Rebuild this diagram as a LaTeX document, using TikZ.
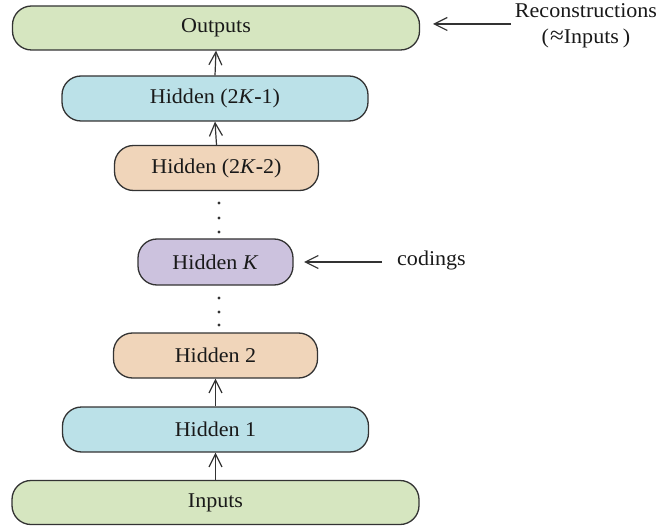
\documentclass[tikz,border=0pt]{standalone}
\usepackage{fontspec}
\setmainfont{Liberation Serif}[FakeStretch=1.05]
\usetikzlibrary{arrows.meta}
\definecolor{layergreen}{HTML}{D6E6C0}
\definecolor{layerblue}{HTML}{BBE1E8}
\definecolor{layerpeach}{HTML}{F0D5BA}
\definecolor{layerpurple}{HTML}{CCC2DE}
\definecolor{edge}{HTML}{333333}
\begin{document}
\begin{tikzpicture}[x=1pt,y=-1pt,
  layer/.style={draw=edge, line width=1.3pt, rounded corners=19pt,
    inner sep=0pt, text=black!90, font=\fontsize{21}{25}\selectfont},
  wide/.style={layer, minimum width=407pt, minimum height=44pt, fill=layergreen},
  mid/.style={layer, minimum width=306pt, minimum height=45pt, fill=layerblue},
  narrow/.style={layer, minimum width=204pt, minimum height=45pt, fill=layerpeach},
  core/.style={layer, minimum width=155pt, minimum height=46pt, fill=layerpurple},
  flow/.style={draw=edge, line width=1.2pt, -{Straight Barb[length=13pt,width=13pt,line width=1.2pt]}},
  note/.style={font=\fontsize{21}{25}\selectfont, text=black!90, inner sep=0pt},
  dotmark/.style={fill=edge}]
  \useasboundingbox (0,0) rectangle (660,526);

  % stacked autoencoder layers
  \node[wide]   (out)  at (216,28)    {Outputs};
  \node[mid]    (h2k1) at (215,98.5)  {Hidden (2\textit{K}\textbf{-}1)};
  \node[narrow] (h2k2) at (216.5,168) {Hidden (2\textit{K}\textbf{-}2)};
  \node[core]   (hk)   at (215.5,262) {Hidden \textit{K}};
  \node[narrow] (h2)   at (215.5,355.5) {Hidden 2};
  \node[mid]    (h1)   at (215.5,429.5) {Hidden 1};
  \node[wide]   (in)   at (215.5,502.5) {Inputs};

  % forward connections
  \draw[flow] (in.north)   -- (h1.south);
  \draw[flow] (h1.north)   -- (h2.south);
  \draw[flow] (h2k2.north) -- (h2k1.south);
  \draw[flow] (h2k1.north) -- (out.south);

  % elided layers
  \foreach \y in {203,218,232,298,312,325}
    \fill[dotmark] (219,\y) circle (1.6pt);

  % annotations
  \node[note, anchor=base] (recon)  at (586,18) {Reconstructions};
  \node[note, anchor=base] (approx) at (586,44) {(\kern1pt{\fontsize{24}{25}\selectfont≈}Inputs\kern4pt)};
  \coordinate (recontail) at (511,24);
  \coordinate (recontip)  at (433,24);
  \draw[flow] (recontail) -- (recontip);

  \node[note, anchor=west] (codings) at (397,260) {codings};
  \coordinate (codingstail) at (382,262);
  \coordinate (codingstip)  at (304,262);
  \draw[flow] (codingstail) -- (codingstip);
\end{tikzpicture}
\end{document}
